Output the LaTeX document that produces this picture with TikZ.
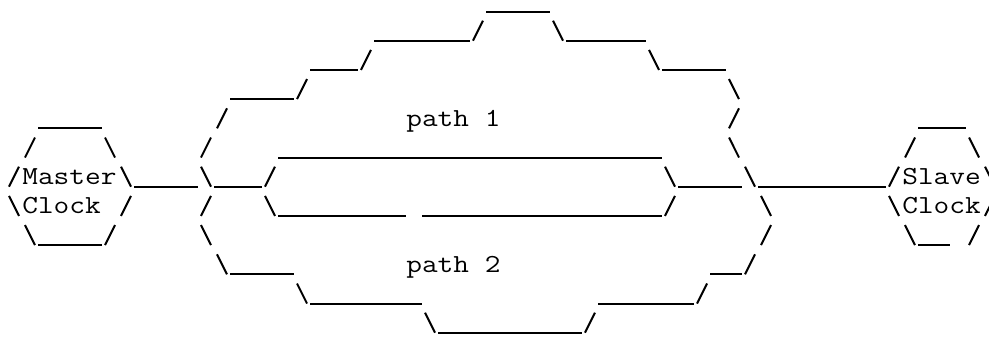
\documentclass[tikz,border=0pt]{standalone}
\usepackage{tikz}
\tikzset{
  asciiline/.style={line width=1.5pt},
  clocktext/.style={anchor=base west, inner sep=0pt, xscale=1.172,
    font=\ttfamily\fontsize{19.5}{22}\selectfont},
}

\begin{document}
\begin{tikzpicture}[x=12pt,y=21.9pt]
        \useasboundingbox (-0.375,-11.113) rectangle (61.4375,0.394);
        %下線 (行/始/終)
        \foreach \r/\a/\b in {0/30/33, 1/23/28, 1/35/39, 2/19/21, 2/41/44, 3/14/17,
            4/2/5, 4/57/59, 5/17/40, 6/8/11, 6/13/15, 6/42/45, 6/47/54,
            7/17/24, 7/26/40, 8/2/5, 8/57/58, 9/14/17, 9/44/45,
            10/19/25, 10/37/42, 11/27/35}
            \draw[asciiline] (\a,-\r)--(\b+1,-\r);
        %スラッシュ /
        \foreach \r/\c in {1/29, 2/22, 3/18, 4/13, 4/45, 5/1, 5/12, 5/56,
            6/0, 6/16, 6/55, 7/7, 7/12, 7/41, 7/61, 8/6, 8/47, 8/60,
            9/46, 10/43, 11/36}
            \draw[asciiline] (\c+0.1875,-\r)--(\c+0.8125,-\r+0.685);
        %バックスラッシュ \
        \foreach \r/\c in {1/34, 2/40, 3/45, 5/6, 5/45, 5/60,
            6/7, 6/12, 6/41, 6/46, 6/61, 7/0, 7/16, 7/47, 7/55,
            8/1, 8/12, 8/56, 9/13, 10/18, 11/26}
            \draw[asciiline] (\c+0.1875,-\r+0.685)--(\c+0.8125,-\r);
        %ラベル
        \node[clocktext] (master) at (1,-6+0.07) {Master};
        \node[clocktext] (masterclock) at (1,-7+0.07) {Clock};
        \node[clocktext] (slave) at (56,-6+0.07) {Slave};
        \node[clocktext] (slaveclock) at (56,-7+0.07) {Clock};
        \node[clocktext] (path1) at (25,-4+0.07) {path 1};
        \node[clocktext] (path2) at (25,-9+0.07) {path 2};
\end{tikzpicture}
\end{document}
